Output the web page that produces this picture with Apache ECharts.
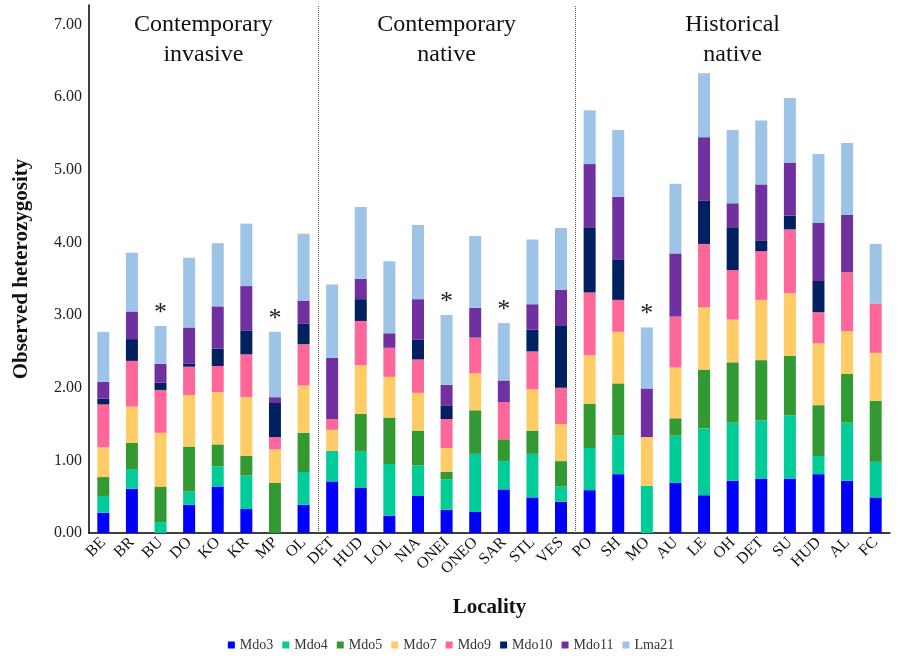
<!DOCTYPE html>
<html><head><meta charset="utf-8">
<script src="https://cdn.jsdelivr.net/npm/echarts@6/dist/echarts.min.js"></script>
<style>html,body{margin:0;padding:0;background:#fff}#c{width:902px;height:658px}</style>
</head><body><div id="c"></div>
<script>
const categories = ['BE','BR','BU','DO','KO','KR','MP','OL','DET','HUD','LOL','NIA','ONEI','ONEO','SAR','STL','VES','PO','SH','MO','AU','LE','OH','DET','SU','HUD','AL','FC'];
const starred = [2, 6, 12, 14, 19];
const groupTitles = ['Contemporary\ninvasive', 'Contemporary\nnative', 'Historical\nnative'];
const groupBounds = [7.5, 16.5];
const yTicks = [0,1,2,3,4,5,6,7];

const Mdo3  = [0.28,0.61,0,0.39,0.64,0.33,0,0.39, 0.71,0.62,0.24,0.51,0.32,0.29,0.60,0.49,0.43, 0.59,0.81,0,0.69,0.52,0.72,0.75,0.75,0.81,0.72,0.49];
const Mdo4  = [0.23,0.27,0.15,0.18,0.28,0.46,0,0.45, 0.42,0.50,0.71,0.42,0.42,0.80,0.39,0.60,0.21, 0.58,0.53,0.65,0.65,0.92,0.80,0.80,0.87,0.25,0.80,0.49];
const Mdo5  = [0.26,0.36,0.49,0.62,0.30,0.27,0.69,0.54, 0,0.52,0.64,0.48,0.10,0.60,0.30,0.32,0.35, 0.61,0.72,0,0.24,0.81,0.83,0.83,0.82,0.70,0.67,0.84];
const Mdo7  = [0.41,0.50,0.74,0.71,0.72,0.81,0.46,0.65, 0.29,0.67,0.56,0.52,0.33,0.51,0,0.57,0.51, 0.67,0.71,0.67,0.70,0.86,0.59,0.83,0.86,0.85,0.59,0.66];
const Mdo9  = [0.59,0.63,0.59,0.39,0.36,0.59,0.17,0.57, 0.15,0.61,0.40,0.46,0.40,0.49,0.51,0.52,0.50, 0.86,0.44,0,0.70,0.87,0.68,0.67,0.88,0.43,0.81,0.68];
const Mdo10 = [0.08,0.30,0.10,0.04,0.24,0.33,0.47,0.28, 0,0.30,0,0.27,0.18,0,0,0.30,0.85, 0.90,0.55,0,0,0.60,0.59,0.15,0.19,0.43,0,0];
const Mdo11 = [0.23,0.38,0.26,0.50,0.58,0.61,0.08,0.32, 0.84,0.28,0.20,0.56,0.29,0.41,0.30,0.35,0.50, 0.87,0.87,0.67,0.87,0.87,0.33,0.77,0.73,0.80,0.79,0];
const Lma21 = [0.69,0.81,0.52,0.96,0.87,0.86,0.90,0.92, 1.01,0.99,0.99,1.02,0.96,0.99,0.79,0.89,0.85, 0.74,0.92,0.84,0.96,0.88,1.01,0.88,0.89,0.95,0.99,0.82];

const seriesNames = ['Mdo3','Mdo4','Mdo5','Mdo7','Mdo9','Mdo10','Mdo11','Lma21'];
const seriesData = [Mdo3,Mdo4,Mdo5,Mdo7,Mdo9,Mdo10,Mdo11,Lma21];
const colors = ['#0000FF','#00CC99','#339933','#FFCC66','#FF6699','#002060','#7030A0','#9DC3E6'];

const FONT = '"Liberation Serif","Times New Roman",serif';
const chart = echarts.init(document.getElementById('c'), null, {renderer:'canvas'});

const series = seriesNames.map((n,i)=>({
  name:n, type:'bar', stack:'total', barWidth:12, xAxisIndex:0, yAxisIndex:0,
  itemStyle:{color:colors[i]},
  data: seriesData[i],
  label: i===seriesNames.length-1 ? {
    show:true, position:'top', distance:0, fontFamily:FONT, fontSize:26, color:'#222',
    formatter: p => starred.indexOf(p.dataIndex) >= 0 ? '*' : ''
  } : {show:false}
}));
series.push({
  type:'line', xAxisIndex:1, yAxisIndex:0, data:[], silent:true,
  markLine:{
    symbol:'none', silent:true, label:{show:false},
    lineStyle:{type:'dotted', color:'#555', width:1},
    data: groupBounds.map(v=>({xAxis:v}))
  }
});

chart.setOption({
  animation:false,
  color: colors,
  textStyle:{fontFamily:FONT},
  grid:{left:89, right:12, top:5, bottom:125, outerBoundsMode:'none', containLabel:false},
  legend:{
    bottom:1, left:'center', itemWidth:7, itemHeight:7, itemGap:9, icon:'rect',
    textStyle:{fontFamily:FONT, fontSize:14, color:'#333'},
    data: seriesNames
  },
  xAxis:[{
    type:'category', data:categories,
    axisLine:{lineStyle:{color:'#000', width:1.5}},
    axisTick:{show:false},
    axisLabel:{rotate:45, interval:0, fontFamily:FONT, fontSize:16, color:'#111', margin:7},
    name:'Locality', nameLocation:'middle', nameGap:64,
    nameTextStyle:{fontFamily:FONT, fontSize:21, fontWeight:'bold', color:'#111'}
  },{
    type:'value', min:-0.5, max:categories.length-0.5, show:false
  }],
  yAxis:{
    type:'value', min:0, max:7.27, interval:1,
    axisLine:{show:true, onZero:false, lineStyle:{color:'#000', width:1.5}},
    axisTick:{show:false},
    splitLine:{show:false},
    axisLabel:{showMaxLabel:false, fontFamily:FONT, fontSize:16, color:'#222', margin:7,
      formatter: v => yTicks.indexOf(v) >= 0 ? v.toFixed(2) : ''},
    name:'Observed heterozygosity', nameLocation:'middle', nameGap:57,
    nameTextStyle:{fontFamily:FONT, fontSize:21, fontWeight:'bold', color:'#111'}
  },
  series: series
});

const groupRanges = [[0,7],[8,16],[17,27]];
const gfx = groupRanges.map((r,i)=>{
  const x0 = chart.convertToPixel({xAxisIndex:1}, r[0]);
  const x1 = chart.convertToPixel({xAxisIndex:1}, r[1]);
  return {type:'text', x:(x0+x1)/2, y:10, style:{text:groupTitles[i], font:'24px '+FONT, fill:'#111', align:'center', verticalAlign:'top', lineHeight:30}};
});
chart.setOption({graphic:gfx});
</script></body></html>
